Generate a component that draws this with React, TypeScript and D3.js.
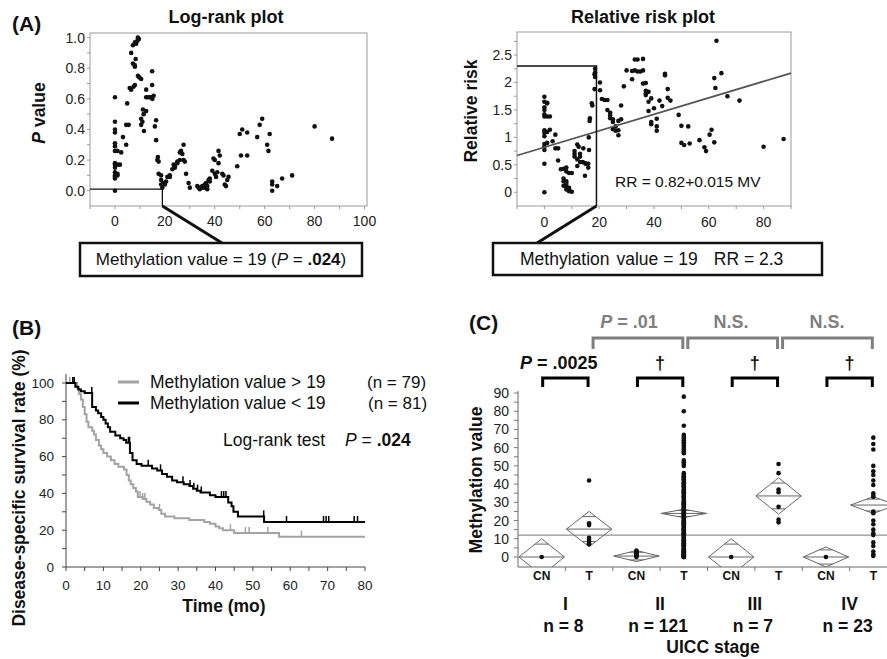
import React from "react";
import * as d3 from "d3";

const F = "'Liberation Sans', Arial, Helvetica, sans-serif";

// ---------- Panel A (left): log-rank P value vs methylation value ----------
const logRankPoints: [number, number][] = [
  [0,0.61],[0,0.45],[0,0.40],[0,0.38],[0,0.31],[0,0.29],[0,0.26],[0,0.18],[0,0.17],[0,0.15],[0,0.12],[0,0.10],[0,0.09],[0,0.0],[0,0.08],
  [1,0.26],[1,0.17],[1,0.11],[1,0.10],[2,0.17],[2.5,0.25],[3.2,0.35],[4.5,0.43],[4.5,0.30],[5.5,0.43],[4.9,0.57],[5.9,0.67],[6.5,0.66],
  [6.5,0.90],[7.2,0.83],[7.5,0.68],[8,0.97],[7.2,0.95],[8,0.81],[8.3,0.86],[8,0.69],[7.9,0.82],[8.5,0.96],[9.2,1.0],[9,0.98],[9.6,0.99],[9.2,0.75],[9.8,0.74],[10.5,0.73],[10.5,0.47],[10.5,0.43],[11,0.45],[11.6,0.39],[11.5,0.50],[11.2,0.53],[12.5,0.66],[12.5,0.52],[12.5,0.61],[13.2,0.61],[14,0.61],[14.5,0.61],[15,0.60],[14.9,0.78],[14.9,0.69],[15.5,0.62],[16,0.42],[16.5,0.46],[16.5,0.33],[17.2,0.22],[17,0.20],[17.5,0.19],[17.5,0.11],[18.5,0.10],[18.5,0.07],[18.5,0.04],[19,0.02],[19.5,0.05],[20,0.04],[20.5,0.06],[21,0.09],[22,0.10],[22,0.09],[23,0.14],[23.5,0.17],[24,0.15],[24,0.16],[25,0.19],[25,0.18],[26,0.25],[26,0.20],[26.5,0.26],[27,0.24],[27.5,0.20],[27.5,0.30],[28,0.19],[28.5,0.11],[29.5,0.05],[30,0.02],[33,0.03],[33.5,0.02],[34,0.01],[34.5,0.02],[35,0.03],[35.5,0.02],[36,0.04],[36,0.03],[36.5,0.05],[36.5,0.02],[37,0.01],[37,0.03],[37.5,0.07],[38,0.06],[38,0.08],[39,0.13],[39.5,0.21],[40,0.20],[40,0.11],[40.5,0.09],[41,0.12],[41.5,0.18],[41.5,0.26],[42,0.23],[43,0.11],[43.5,0.10],[44,0.04],[44.5,0.03],[45,0.07],[45.5,0.09],[49,0.16],[50,0.37],[50.5,0.23],[51,0.40],[53,0.38],[53,0.23],[57,0.35],[58,0.43],[59,0.47],[61,0.30],[61.5,0.26],[62,0.37],[63,0.06],[63,0.04],[63,0.00],[65,0.03],[67,0.08],[71,0.10],[80,0.42],[87,0.34],
];
const lrXTicks = [-10, 0, 10, 20, 30, 40, 50, 60, 70, 80, 90, 100];
const lrXLabels = [0, 20, 40, 60, 80, 100];
const lrYTicks = [0, 0.1, 0.2, 0.3, 0.4, 0.5, 0.6, 0.7, 0.8, 0.9, 1.0];
const lrYLabels = [0, 0.2, 0.4, 0.6, 0.8, 1.0];

// ---------- Panel A (right): relative risk vs methylation value ----------
const rrPoints: [number, number][] = [
  [0,1.74],[0,1.65],[0,1.55],[0,1.50],[0,1.42],[0,1.38],[0,1.13],[0,1.08],[0,1.02],[0,0.88],[0,0.83],[0,0.77],[0,0.52],[0,0.0],
  [1,1.63],[1,1.62],[1,1.38],[1,1.10],[1,0.90],[2,1.38],[2,1.14],[3,0.93],[4,0.80],[4,1.05],[5,0.80],[5,0.58],[6,0.42],[7,0.43],[7,0.25],[7,0.20],[7,0.12],[8,0.45],[8,0.38],[8,0.20],[8,0.15],[8,0.10],[8,0.05],[9,0.35],[9,0.05],[9,0.08],[9,0.02],[10,0.35],[10,0.01],[11,0.70],[11,0.75],[11,0.65],[12,0.87],[12,0.60],[12,0.48],[12.5,0.83],[13,0.70],[13,0.65],[13,0.55],[14,0.55],[14.2,0.80],[15,0.53],[15,0.52],[14.8,0.30],[16,0.52],[16,0.45],[16.2,1.0],[16.3,0.77],[16.5,1.30],[16.6,1.35],[17.3,1.62],[17.5,1.58],[18.3,1.88],[18.3,2.15],[18.5,2.25],[18.5,2.18],[18.5,2.10],[20.3,2.0],[20.3,1.86],[21,1.70],[22,1.68],[23,1.68],[23,1.50],[24,1.40],[24,1.35],[24,1.45],[25,1.33],[25,1.28],[25,1.15],[26,1.12],[26,1.20],[27,1.13],[27,1.04],[27,1.30],[28,1.33],[28,1.58],[29,1.93],[30,2.22],[32,2.21],[32,2.06],[33,2.42],[33,2.22],[34,2.42],[34,2.20],[35,2.20],[36,2.43],[36,2.22],[36,1.98],[37,1.99],[37,1.85],[37,1.80],[37,1.77],[38,1.83],[38,1.65],[38,1.48],[39,1.71],[39,1.28],[39,1.24],[40,1.53],[41,1.34],[41,1.12],[41,1.20],[42,1.67],[43,1.57],[44,2.16],[44,2.13],[45,1.88],[45,1.72],[46,1.67],[49,1.41],[50,1.21],[50,0.90],[51,0.86],[52.5,1.20],[53,0.89],[56.6,0.95],[58.4,0.82],[59,0.75],[60.3,1.05],[61,1.14],[62,0.91],[62,2.08],[62.4,1.90],[62.8,2.76],[64.6,2.17],[66.8,1.75],[71.2,1.67],[80,0.83],[87.3,0.97],
];
const rrIntercept = 0.82;
const rrSlope = 0.015;
const rrXTicks = [-10, 0, 10, 20, 30, 40, 50, 60, 70, 80, 90];
const rrXLabels = [0, 20, 40, 60, 80];
const rrYTicks = [0, 0.25, 0.5, 0.75, 1, 1.25, 1.5, 1.75, 2, 2.25, 2.5, 2.75];
const rrYLabels = [0, 0.5, 1, 1.5, 2, 2.5];

// ---------- Panel B: Kaplan-Meier ----------
const kmHighTimes = [0, 3, 3.5, 4, 4.5, 5, 5.5, 6, 7, 7.5, 8, 8.8, 9.4, 10, 11, 12, 13, 14, 15.5, 16.2, 16.8, 17.3, 18, 18.7, 19.2, 20.5, 21.5, 22.5, 23.5, 24.8, 25.5, 26.5, 29, 33, 37, 38.5, 40, 41, 42, 45, 57, 80];
const kmHighSurv = [100, 97, 94, 91, 87, 83, 79, 76, 74, 72, 69, 66, 64, 62, 60, 58, 56, 54.5, 53, 50, 47, 45, 43, 41, 38, 37, 35.5, 34, 32, 31, 29, 27.5, 26.5, 25.5, 24.5, 23.5, 22, 21, 20, 18.5, 16.5, 16.5];
const kmHighCensor = [1, 2, 19.8, 20.5, 21.1, 25, 44, 48, 49, 54, 63];
const kmLowTimes = [0, 2.5, 3.3, 4, 5, 7, 8, 8.6, 9.4, 10, 10.6, 11.2, 11.8, 13.2, 14.5, 15.4, 16.1, 17.1, 17.8, 18.9, 20.2, 23, 24.4, 25.7, 27, 28.4, 29.7, 31.5, 33, 34, 35, 36, 38.5, 40, 43.4, 44.3, 44.8, 46, 53, 80];
const kmLowSurv = [100, 98, 96.5, 95.5, 94.5, 87, 85, 83.5, 81.5, 80, 78, 76, 73.5, 71.5, 70, 69, 67.5, 62, 58, 56, 55, 53.5, 52.5, 50.5, 49, 47, 46, 45, 44, 42.5, 41.5, 40.5, 39, 38, 35, 33, 30, 27.5, 24.5, 24.5];
const kmLowCensor = [1.8, 2.2, 6.9, 16.7, 17, 22, 25.3, 31.3, 33.2, 34.2, 35.2, 36.2, 41.6, 42.2, 42.8, 52.9, 59, 68.9, 69.6, 70.3, 77.1, 78];
const kmXTicks = [0, 5, 10, 15, 20, 25, 30, 35, 40, 45, 50, 55, 60, 65, 70, 75, 80];
const kmXLabels = [0, 10, 20, 30, 40, 50, 60, 70, 80];
const kmYTicks = [0, 10, 20, 30, 40, 50, 60, 70, 80, 90, 100];
const kmYLabels = [0, 20, 40, 60, 80, 100];

// ---------- Panel C: methylation value by UICC stage ----------
const stages = ["I", "II", "III", "IV"];
const stageN = [8, 121, 7, 23];
const groups = ["I-CN", "I-T", "II-CN", "II-T", "III-CN", "III-T", "IV-CN", "IV-T"];
const groupLabels = ["CN", "T", "CN", "T", "CN", "T", "CN", "T"];
const groupMeans = [0, 15.3, 0.5, 23.9, 0, 33.5, 0, 28.5];
const groupCI = [10, 9.7, 3, 2.3, 10, 10, 5.5, 4.6];
const cnI = [0];
const tI = [42, 18.5, 17.5, 10.5, 9.5, 8.5, 7.5, 7];
const cnII = [3.5, 3, 2.5, 2, 1.5, 1, 0.5, 0];
const tII = [88, 80, 72, 67, 66, 65, 64, 63, 62, 61, 60, 59, 58, 57, 53, 52, 51, 50,
  46, 45, 44.5, 44, 43, 42.5, 42, 41, 40.5, 40, 39, 38.5, 38, 37, 36, 35.5, 35, 34, 33, 32.5, 32, 31, 30.5, 30, 29, 28.5, 28, 27.5, 27, 26, 25.5, 25, 24.5, 24, 23.5, 23, 22.5, 22, 21, 20.5, 20, 19.5, 19, 18, 17.5, 17, 16, 15.5, 15, 14.5, 14, 13, 12.5, 12, 11.5, 11, 10, 9.5, 9, 8.5, 8, 7.5, 7, 6.5, 6, 5.5, 5, 4.5, 4, 3.5, 3, 2.5, 2, 1.5, 1, 0.5, 0, 0, 0, 0.2, 0.8, 1.2, 2.2, 3.2, 6.2, 9.2, 13.5, 16.5, 18.5, 21.5, 26.5, 29.5, 33.5, 36.5, 39.5, 43.5, 0.3, 1.7, 4.2, 7.2, 10.5, 12.8, 15.2];
const cnIII = [0];
const tIII = [51, 46, 37, 35.5, 27.5, 20.5, 19];
const cnIV = [0];
const tIV = [65.5, 62, 59, 50, 47, 45, 42, 39.5, 35, 33.5, 33, 25, 24, 20, 18, 15, 13, 12, 8, 6, 3, 1.5, 0.5];
const groupValues = [cnI, tI, cnII, tII, cnIII, tIII, cnIV, tIV];
const cutoffLine = 12;
const cYTicks = [0, 5, 10, 15, 20, 25, 30, 35, 40, 45, 50, 55, 60, 65, 70, 75, 80, 85, 90];
const cYLabels = [0, 10, 20, 30, 40, 50, 60, 70, 80, 90];

function stepAt(times: number[], surv: number[], t: number) {
  let v = surv[0];
  for (let i = 0; i < times.length; i++) if (times[i] <= t) v = surv[i];
  return v;
}

export default function App() {
  const xA1 = d3.scaleLinear().domain([-10, 101]).range([90, 367]);
  const yA1 = d3.scaleLinear().domain([-0.1, 1.03]).range([206, 33]);
  const xA2 = d3.scaleLinear().domain([-10, 90]).range([517, 791]);
  const yA2 = d3.scaleLinear().domain([-0.25, 2.92]).range([206, 32]);
  const xB = d3.scaleLinear().domain([0, 80]).range([66, 365]);
  const yB = d3.scaleLinear().domain([0, 100]).range([567, 383]);
  const xC = d3.scaleBand<string>().domain(groups).range([518, 897]).padding(0);
  const yC = d3.scaleLinear().domain([-5.5, 90]).range([567, 393]);

  const fmtA1 = d3.format(".1f");
  const fmtA2 = (v: number) => String(v);

  const stepLine = d3.line<[number, number]>().curve(d3.curveStepAfter).x(d => xB(d[0])).y(d => yB(d[1]));
  const highPath = stepLine(kmHighTimes.map((t, i) => [t, kmHighSurv[i]] as [number, number]));
  const lowPath = stepLine(kmLowTimes.map((t, i) => [t, kmLowSurv[i]] as [number, number]));

  const dark = "#111";
  const frame = "#9a9a9a";
  const bw = xC.bandwidth();
  const cx = (g: string) => (xC(g) as number) + bw / 2;
  const gray = "#7f7f7f";
  const kmGray = "#a3a3a3";

  return (
    <div style={{ position: "absolute", left: 0, top: 0 }}>
      <svg width={887} height={659} fontFamily={F} style={{ display: "block", background: "#fff" }}>
        <defs>
          <clipPath id="clipC"><rect x={518} y={385} width={369} height={182} /></clipPath>
        </defs>

        {/* ================= Panel A left ================= */}
        <text x={12} y={31} fontSize={21} fontWeight="bold" fill={dark}>(A)</text>
        <text x={226} y={23} fontSize={18} fontWeight="bold" textAnchor="middle" fill={dark}>Log-rank plot</text>
        <rect x={90} y={33} width={277} height={173} fill="none" stroke={frame} strokeWidth={1} />
        {lrYTicks.map(t => <line key={"a1yt" + t} x1={87} x2={90} y1={yA1(t)} y2={yA1(t)} stroke={frame} />)}
        {lrYLabels.map(t => <text key={"a1yl" + t} x={85} y={yA1(t) + 5} fontSize={14} textAnchor="end" fill="#222">{fmtA1(t)}</text>)}
        {lrXTicks.map(t => <line key={"a1xt" + t} x1={xA1(t)} x2={xA1(t)} y1={206} y2={209} stroke={frame} />)}
        {lrXLabels.map(t => <text key={"a1xl" + t} x={xA1(t)} y={226} fontSize={14} textAnchor="middle" fill="#222">{t}</text>)}
        <text transform={`translate(45,113) rotate(-90)`} fontSize={17.5} fontWeight="bold" textAnchor="middle" fill={dark}>
          <tspan fontStyle="italic">P</tspan> value
        </text>
        {logRankPoints.map((p, i) => <circle key={"a1p" + i} cx={xA1(p[0])} cy={yA1(p[1])} r={2.3} fill={dark} />)}
        <path d={`M90,${yA1(0.01)}H${xA1(19)}V206`} fill="none" stroke={dark} strokeWidth={1.3} />
        <line x1={xA1(19)} y1={206} x2={222} y2={243} stroke={dark} strokeWidth={3} />
        <rect x={80} y={243} width={282} height={33} fill="#fff" stroke={dark} strokeWidth={2.5} />
        <text x={221} y={265} fontSize={17} textAnchor="middle" fill={dark}>
          Methylation value = 19 (<tspan fontStyle="italic">P</tspan> = <tspan fontWeight="bold">.024</tspan>)
        </text>

        {/* ================= Panel A right ================= */}
        <text x={643} y={23} fontSize={18} fontWeight="bold" textAnchor="middle" fill={dark}>Relative risk plot</text>
        <rect x={517} y={32} width={274} height={174} fill="none" stroke={frame} strokeWidth={1} />
        {rrYTicks.map(t => <line key={"a2yt" + t} x1={514} x2={517} y1={yA2(t)} y2={yA2(t)} stroke={frame} />)}
        {rrYLabels.map(t => <text key={"a2yl" + t} x={512} y={yA2(t) + 5} fontSize={14} textAnchor="end" fill="#222">{fmtA2(t)}</text>)}
        {rrXTicks.map(t => <line key={"a2xt" + t} x1={xA2(t)} x2={xA2(t)} y1={206} y2={209} stroke={frame} />)}
        {rrXLabels.map(t => <text key={"a2xl" + t} x={xA2(t)} y={227} fontSize={14} textAnchor="middle" fill="#222">{t}</text>)}
        <text transform={`translate(477,111) rotate(-90)`} fontSize={17.5} fontWeight="bold" textAnchor="middle" fill={dark}>Relative risk</text>
        {rrPoints.map((p, i) => <circle key={"a2p" + i} cx={xA2(p[0])} cy={yA2(p[1])} r={2.3} fill={dark} />)}
        <line x1={xA2(-10)} y1={yA2(rrIntercept + rrSlope * -10)} x2={xA2(90)} y2={yA2(rrIntercept + rrSlope * 90)} stroke="#555" strokeWidth={1.8} />
        <path d={`M517,${yA2(2.3)}H${xA2(19)}V206`} fill="none" stroke={dark} strokeWidth={1.5} />
        <line x1={xA2(19)} y1={206} x2={537} y2={243} stroke={dark} strokeWidth={3} />
        <text x={615} y={187} fontSize={15.5} fill={dark}>RR = 0.82+0.015 MV</text>
        <rect x={493} y={243} width={329} height={32} fill="#fff" stroke={dark} strokeWidth={2.5} />
        <text x={520} y={265} fontSize={17.5} fill={dark}>
          Methylation<tspan dx={7}>value = 19</tspan><tspan dx={16}>RR = 2.3</tspan>
        </text>

        {/* ================= Panel B ================= */}
        <text x={12} y={335} fontSize={21} fontWeight="bold" fill={dark}>(B)</text>
        <line x1={66} x2={66} y1={374} y2={567} stroke="#444" />
        <line x1={66} x2={365} y1={567} y2={567} stroke="#444" />
        {kmYTicks.map(t => <line key={"byt" + t} x1={62} x2={66} y1={yB(t)} y2={yB(t)} stroke="#444" />)}
        {kmYLabels.map(t => <text key={"byl" + t} x={54} y={yB(t) + 4.5} fontSize={13.5} textAnchor="end" fill="#222">{t}</text>)}
        {kmXTicks.map(t => <line key={"bxt" + t} x1={xB(t)} x2={xB(t)} y1={567} y2={571} stroke="#444" />)}
        {kmXLabels.map(t => <text key={"bxl" + t} x={xB(t)} y={590} fontSize={13.5} textAnchor="middle" fill="#222">{t}</text>)}
        <text x={224} y={612} fontSize={17.5} fontWeight="bold" textAnchor="middle" fill={dark}>Time (mo)</text>
        <text transform={`translate(25,488) rotate(-90)`} fontSize={17.5} fontWeight="bold" textAnchor="middle" fill={dark}>Disease-specific survival rate (%)</text>
        <path d={highPath || ""} fill="none" stroke={kmGray} strokeWidth={2} />
        {kmHighCensor.map((t, i) => {
          const s = stepAt(kmHighTimes, kmHighSurv, t);
          return <line key={"hc" + i} x1={xB(t)} x2={xB(t)} y1={yB(s)} y2={yB(s) - 6} stroke={kmGray} strokeWidth={1.5} />;
        })}
        <path d={lowPath || ""} fill="none" stroke="#000" strokeWidth={2} />
        {kmLowCensor.map((t, i) => {
          const s = stepAt(kmLowTimes, kmLowSurv, t);
          return <line key={"lc" + i} x1={xB(t)} x2={xB(t)} y1={yB(s)} y2={yB(s) - 6} stroke="#000" strokeWidth={1.5} />;
        })}
        <line x1={118} x2={139} y1={382} y2={382} stroke={kmGray} strokeWidth={3} />
        <line x1={118} x2={139} y1={403} y2={403} stroke="#000" strokeWidth={3} />
        <text x={150} y={388} fontSize={17.5} fill={dark}>Methylation value &gt; 19</text>
        <text x={150} y={409} fontSize={17.5} fill={dark}>Methylation value &lt; 19</text>
        <text x={367} y={388} fontSize={17} fill={dark}>(n = 79)</text>
        <text x={368} y={409} fontSize={17} fill={dark}>(n = 81)</text>
        <text x={223} y={446} fontSize={17.5} fill={dark}>Log-rank test</text>
        <text x={345} y={446} fontSize={17.5} fill={dark}>
          <tspan fontStyle="italic">P</tspan> = <tspan fontWeight="bold">.024</tspan>
        </text>

        {/* ================= Panel C ================= */}
        <text x={469} y={330} fontSize={21} fontWeight="bold" fill={dark}>(C)</text>
        <line x1={518} x2={518} y1={391} y2={567} stroke="#666" />
        <line x1={518} x2={887} y1={567} y2={567} stroke="#666" />
        {cYTicks.map(t => <line key={"cyt" + t} x1={514} x2={518} y1={yC(t)} y2={yC(t)} stroke="#777" />)}
        {cYLabels.map(t => <text key={"cyl" + t} x={509} y={yC(t) + 5} fontSize={14} textAnchor="end" fill="#222">{t}</text>)}
        {groups.slice(1).map(g => <line key={"cxt" + g} x1={xC(g)} x2={xC(g)} y1={567} y2={571} stroke="#777" />)}
        {groups.map((g, i) => <text key={"cxl" + g} x={cx(g)} y={580} fontSize={12} fontWeight="bold" textAnchor="middle" fill={dark}>{groupLabels[i]}</text>)}
        <text transform={`translate(482,480) rotate(-90)`} fontSize={17.5} fontWeight="bold" textAnchor="middle" fill={dark}>Methylation value</text>
        {stages.map((s, i) => {
          const mid = (cx(groups[2 * i]) + cx(groups[2 * i + 1])) / 2;
          return (
            <g key={"st" + s}>
              <text x={mid} y={610} fontSize={17.5} fontWeight="bold" textAnchor="middle" fill={dark}>{s}</text>
              <text x={mid - 2} y={632} fontSize={17.5} fontWeight="bold" textAnchor="middle" fill={dark}>n = {stageN[i]}</text>
            </g>
          );
        })}
        <text x={713} y={653} fontSize={17.5} fontWeight="bold" textAnchor="middle" fill={dark}>UICC stage</text>

        <g clipPath="url(#clipC)">
          <line x1={518} x2={887} y1={yC(cutoffLine)} y2={yC(cutoffLine)} stroke="#777" strokeWidth={1} />
          {groups.map((g, i) => {
            const x0 = (xC(g) as number) + 1;
            const x1 = (xC(g) as number) + bw - 1;
            const xc = cx(g);
            const m = groupMeans[i];
            const h = groupCI[i];
            const hw = ((x1 - x0) / 2) * (1 - Math.SQRT1_2);
            const o = h * Math.SQRT1_2;
            return (
              <g key={"dm" + g} stroke="#666" strokeWidth={1} fill="none">
                <polygon points={`${x0},${yC(m)} ${xc},${yC(m + h)} ${x1},${yC(m)} ${xc},${yC(m - h)}`} />
                <line x1={x0} x2={x1} y1={yC(m)} y2={yC(m)} />
                <line x1={xc - hw} x2={xc + hw} y1={yC(m + o)} y2={yC(m + o)} />
                <line x1={xc - hw} x2={xc + hw} y1={yC(m - o)} y2={yC(m - o)} />
              </g>
            );
          })}
          {groups.map((g, i) => groupValues[i].map((v, j) => (
            <circle key={"cp" + g + j} cx={cx(g)} cy={yC(v)} r={2.3} fill={dark} />
          )))}
        </g>

        {stages.map((s, i) => {
          const a = cx(groups[2 * i]) + 1;
          const b = cx(groups[2 * i + 1]) - 1;
          return <path key={"bk" + s} d={`M${a},387V378H${b}V387`} fill="none" stroke="#000" strokeWidth={3} />;
        })}
        <text x={520} y={369} fontSize={18} fontWeight="bold" fill={dark}>
          <tspan fontStyle="italic">P</tspan> = .0025
        </text>
        {stages.slice(1).map((s, i) => {
          const mid = (cx(groups[2 * (i + 1)]) + cx(groups[2 * (i + 1) + 1])) / 2;
          return <text key={"dg" + s} x={mid} y={369} fontSize={18} fontWeight="bold" textAnchor="middle" fill={dark}>†</text>;
        })}
        {[0, 1, 2].map(i => {
          const a = cx(groups[2 * i + 1]) + 4;
          const b = cx(groups[2 * i + 3]) - 1;
          return <path key={"gb" + i} d={`M${a},349V338H${b}V349`} fill="none" stroke={gray} strokeWidth={3} />;
        })}
        <text x={629} y={328} fontSize={18} fontWeight="bold" textAnchor="middle" fill={gray}>
          <tspan fontStyle="italic">P</tspan> = .01
        </text>
        <text x={731} y={328} fontSize={18} fontWeight="bold" textAnchor="middle" fill={gray}>N.S.</text>
        <text x={827} y={328} fontSize={18} fontWeight="bold" textAnchor="middle" fill={gray}>N.S.</text>
      </svg>
    </div>
  );
}
